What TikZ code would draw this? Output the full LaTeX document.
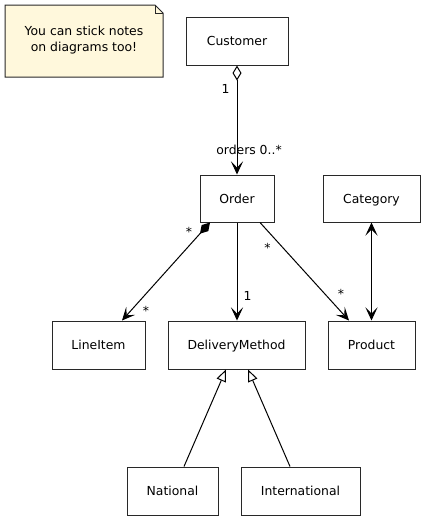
\documentclass[tikz,border=0pt]{standalone}
\usepackage{fontspec}
\setmainfont{DejaVu Sans}
\usetikzlibrary{arrows.meta,calc}
\definecolor{notefill}{RGB}{255,248,220}
\definecolor{edge}{RGB}{40,40,40}
\begin{document}
\begin{tikzpicture}[x=1pt,y=-1pt,
  font=\fontsize{12.4}{16}\selectfont,
  cls/.style={draw=edge,line width=1pt,fill=white,inner sep=0pt,
    text height=9pt,text depth=0pt,minimum height=48pt},
  lbl/.style={inner sep=0pt,anchor=base},
  conn/.style={draw=black,line width=1pt},
  stk/.tip={Stealth[length=13pt,width=12pt,inset=6pt]},
  stick/.style={-stk},
  aggr/.style={{Diamond[open,length=15pt,width=9pt]}-stk},
  comp/.style={{Diamond[length=15pt,width=9pt]}-stk},
  both/.style={stk-stk},
  gen/.style={-{Triangle[open,length=12pt,width=10pt,fill=white]}}]
\useasboundingbox (0,0) rectangle (425,523);
% note
\draw[draw=edge,line width=1pt,fill=notefill] (5,5) -- (155,5) -- (163,13) -- (163,77) -- (5,77) -- cycle;
\draw[draw=edge,line width=1pt] (155,5) -- (155,13) -- (163,13);
\node[align=center,inner sep=0pt] (note) at (84,40) {You can stick notes\\on diagrams too!};
% classes
\node[cls,minimum width=102pt] (cust) at (237,41) {Customer};
\node[cls,minimum width=74pt,minimum height=47pt] (order) at (237,198.5) {Order};
\node[cls,minimum width=97pt,minimum height=47pt] (cat) at (371.5,198.5) {Category};
\node[cls,minimum width=93pt] (line) at (98.5,345) {LineItem};
\node[cls,minimum width=137pt] (dm) at (236.5,345) {DeliveryMethod};
\node[cls,minimum width=87pt] (prod) at (371.5,345) {Product};
\node[cls,minimum width=91pt] (nat) at (172.5,491) {National};
\node[cls,minimum width=119pt] (intl) at (300.5,491) {International};
% connectors
\draw[conn,aggr] (cust.south) -- (order.north);
\draw[conn,comp] ([xshift=-27pt]order.south) -- ([xshift=23.5pt]line.north);
\draw[conn,stick] (order.south) -- (order.south |- dm.north);
\draw[conn,stick] ([xshift=23pt]order.south) -- ([xshift=-22.5pt]prod.north);
\draw[conn,both] (cat.south) -- (prod.north);
\draw[conn,gen] ([xshift=11.5pt]nat.north) -- ([xshift=-10.5pt]dm.south);
\draw[conn,gen] ([xshift=-10.5pt]intl.north) -- ([xshift=11.5pt]dm.south);
% labels
\node[lbl] (l1) at (225.5,93.4) {1};
\node[lbl] (l2) at (249,154.5) {orders 0..*};
\node[lbl] (l3) at (189,236.5) {*};
\node[lbl] (l4) at (146,315.5) {*};
\node[lbl] (l5) at (247.5,300) {1};
\node[lbl] (l6) at (267.5,252.5) {*};
\node[lbl] (l7) at (341,298.5) {*};
\end{tikzpicture}
\end{document}
